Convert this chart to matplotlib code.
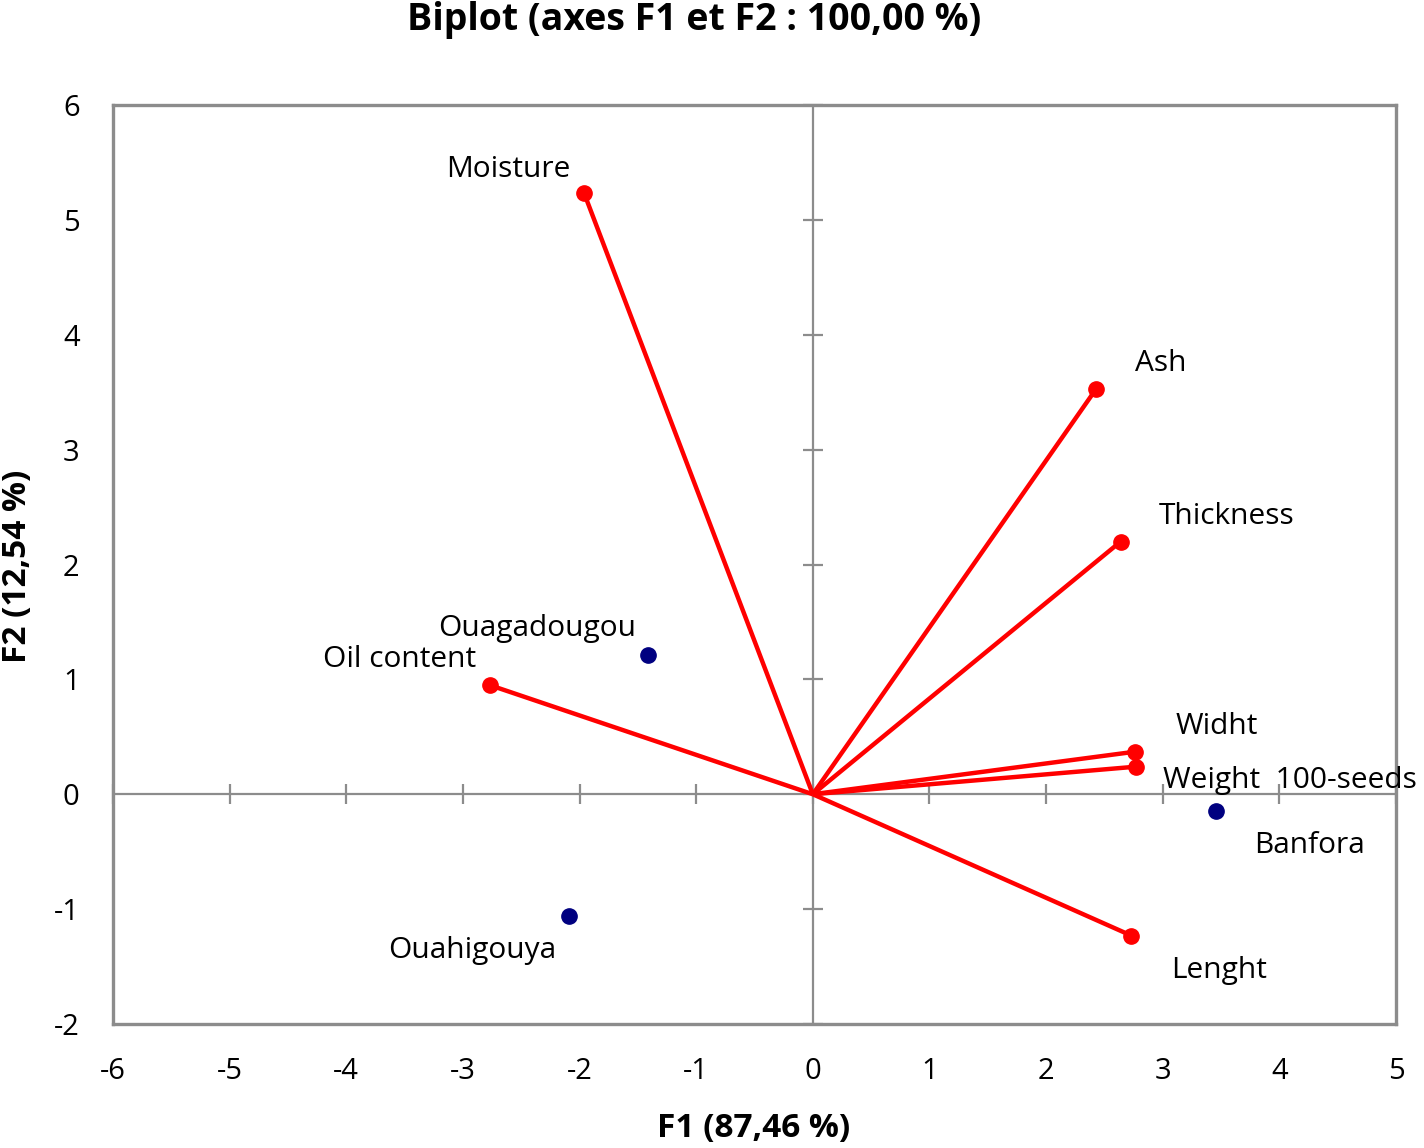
import matplotlib
matplotlib.use("Agg")
import matplotlib.pyplot as plt

plt.rcParams['font.family'] = ['Open Sans', 'DejaVu Sans']

# Variables (red vectors)
var_names = ["Moisture", "Ash", "Thickness", "Widht", "Weight  100-seeds", "Lenght", "Oil content"]
var_f1 = [-1.96, 2.43, 2.64, 2.76, 2.77, 2.73, -2.77]
var_f2 = [5.23, 3.53, 2.20, 0.37, 0.24, -1.23, 0.95]

# Observations (navy points)
obs_names = ["Ouagadougou", "Ouahigouya", "Banfora"]
obs_f1 = [-1.415, -2.09, 3.46]
obs_f2 = [1.21, -1.06, -0.15]

xticks = [-6, -5, -4, -3, -2, -1, 0, 1, 2, 3, 4, 5]
yticks = [-2, -1, 0, 1, 2, 3, 4, 5, 6]

# label offsets in data units (dx, dy)
var_off = [(-0.65, 0.21), (0.55, 0.22), (0.91, 0.22), (0.70, 0.22), (1.32, -0.12), (0.75, -0.30), (-0.77, 0.22)]
obs_off = [(-0.95, 0.23), (-0.83, -0.30), (0.80, -0.30)]

fig = plt.figure(figsize=(14.24, 11.48), dpi=100)
ax = fig.add_axes([113/1424, 1-1024/1148, (1396-113)/1424, (1024-105)/1148])

ax.set_xlim(xticks[0], xticks[-1])
ax.set_ylim(yticks[0], yticks[-1])

grey = '#8c8c8c'
for s in ax.spines.values():
    s.set_color(grey)
    s.set_linewidth(2.4)

ax.axhline(0, color=grey, lw=1.6, zorder=1)
ax.axvline(0, color=grey, lw=1.6, zorder=1)
ax.plot(xticks, [0]*len(xticks), ls='none', marker='|', markersize=14, mew=1.6, color=grey, zorder=1, clip_on=False)
ax.plot([0]*len(yticks), yticks, ls='none', marker='_', markersize=14, mew=1.6, color=grey, zorder=1, clip_on=False)

ax.set_xticks(xticks)
ax.set_yticks(yticks)
ax.set_xticklabels([str(t) for t in xticks])
ax.set_yticklabels([str(t) for t in yticks])
ax.tick_params(length=0, labelsize=21, pad=24)
ax.tick_params(axis='y', pad=24)

for name, x, y, (dx, dy) in zip(var_names, var_f1, var_f2, var_off):
    ax.plot([0, x], [0, y], color='#ff0000', lw=3.2, zorder=3, solid_capstyle='butt')
    ax.plot([x], [y], 'o', color='#ff0000', markersize=11, zorder=4)
    ax.text(x + dx, y + dy, name, fontsize=21.5, ha='center', va='center', zorder=5, clip_on=False)

ax.plot(obs_f1, obs_f2, 'o', color='#000080', markersize=11, ls='none', zorder=4)
for name, x, y, (dx, dy) in zip(obs_names, obs_f1, obs_f2, obs_off):
    ax.text(x + dx, y + dy, name, fontsize=21.5, ha='center', va='center', zorder=5)

fig.text(694/1424, 1-20/1148, "Biplot (axes F1 et F2 : 100,00 %)", fontsize=27, fontweight='bold', ha='center', va='center')
fig.text(754/1424, 1-1128/1148, "F1 (87,46 %)", fontsize=24, fontweight='bold', ha='center', va='center')
fig.text(18/1424, 1-566/1148, "F2 (12,54 %)", fontsize=24, fontweight='bold', ha='center', va='center', rotation=90)

fig.savefig("out.png", dpi=100)
